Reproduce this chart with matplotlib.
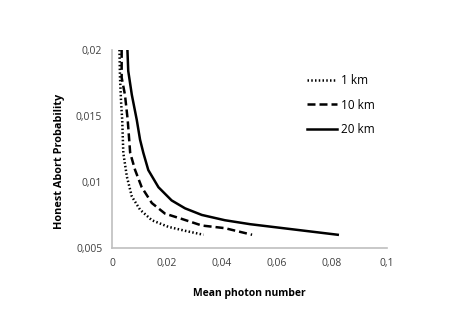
import matplotlib
matplotlib.use("Agg")
import matplotlib.pyplot as plt
from matplotlib.ticker import FuncFormatter

# Data (mean photon number, honest abort probability)
x_1km = [0.0027, 0.0029, 0.0033, 0.0037, 0.0041, 0.0054, 0.0072, 0.0102,
         0.0145, 0.0205, 0.0266, 0.0333]
y_1km = [0.0200, 0.0179, 0.0160, 0.0147, 0.0122, 0.0104, 0.0089, 0.0079,
         0.0071, 0.0066, 0.0063, 0.0060]

x_10km = [0.0035, 0.0035, 0.0047, 0.0057, 0.0066, 0.0084, 0.0108, 0.0145,
          0.0193, 0.0254, 0.0327, 0.0411, 0.0510]
y_10km = [0.0200, 0.0179, 0.0166, 0.0147, 0.0122, 0.0109, 0.0096, 0.0084,
          0.0076, 0.0072, 0.0067, 0.0065, 0.0060]

x_20km = [0.0056, 0.0059, 0.0072, 0.0090, 0.0102, 0.0114, 0.0132, 0.0169,
          0.0217, 0.0266, 0.0327, 0.0411, 0.0503, 0.0822]
y_20km = [0.0200, 0.0184, 0.0166, 0.0147, 0.0132, 0.0122, 0.0109, 0.0096,
          0.0086, 0.0080, 0.0075, 0.0071, 0.0068, 0.0060]

labels = ["1 km", "10 km", "20 km"]
x_ticks = [0, 0.02, 0.04, 0.06, 0.08, 0.1]
y_ticks = [0.005, 0.01, 0.015, 0.02]

plt.rcParams['font.family'] = ['Open Sans', 'DejaVu Sans']

fig = plt.figure(figsize=(4.63, 3.28), dpi=100)
ax = fig.add_axes([0.242, 0.244, 0.593, 0.604])

kw = dict(color='black', lw=1.8, solid_joinstyle='round', dash_joinstyle='round')
ax.plot(x_1km, y_1km, linestyle=(0, (0.6, 0.9)), label=labels[0], **kw)
ax.plot(x_10km, y_10km, linestyle=(0, (3.2, 1.6)), label=labels[1], **kw)
ax.plot(x_20km, y_20km, linestyle='-', label=labels[2], **kw)

ax.set_xlim(0, 0.1)
ax.set_ylim(0.005, 0.02)
ax.set_xticks(x_ticks)
ax.set_yticks(y_ticks)

def fmt(v, pos):
    return ('%g' % round(v, 6)).replace('.', ',')

ax.xaxis.set_major_formatter(FuncFormatter(fmt))
ax.yaxis.set_major_formatter(FuncFormatter(fmt))
ax.tick_params(axis='both', length=0, labelsize=7.5, colors='#404040', pad=7)

for s in ['top', 'right']:
    ax.spines[s].set_visible(False)
for s in ['left', 'bottom']:
    ax.spines[s].set_color('#bfbfbf')
    ax.spines[s].set_linewidth(1.2)

ax.set_xlabel("Mean photon number", fontsize=7.5, fontweight='bold')
ax.set_ylabel("Honest Abort Probability", fontsize=7.8, fontweight='bold')
ax.xaxis.set_label_coords(0.5, -0.2)
ax.yaxis.set_label_coords(-0.172, 0.435)

leg = ax.legend(loc='upper left', bbox_to_anchor=(0.67, 0.93), frameon=False,
                fontsize=8.5, handlelength=2.6, handletextpad=0.3, labelspacing=0.95)

fig.savefig("out.png", dpi=100)
